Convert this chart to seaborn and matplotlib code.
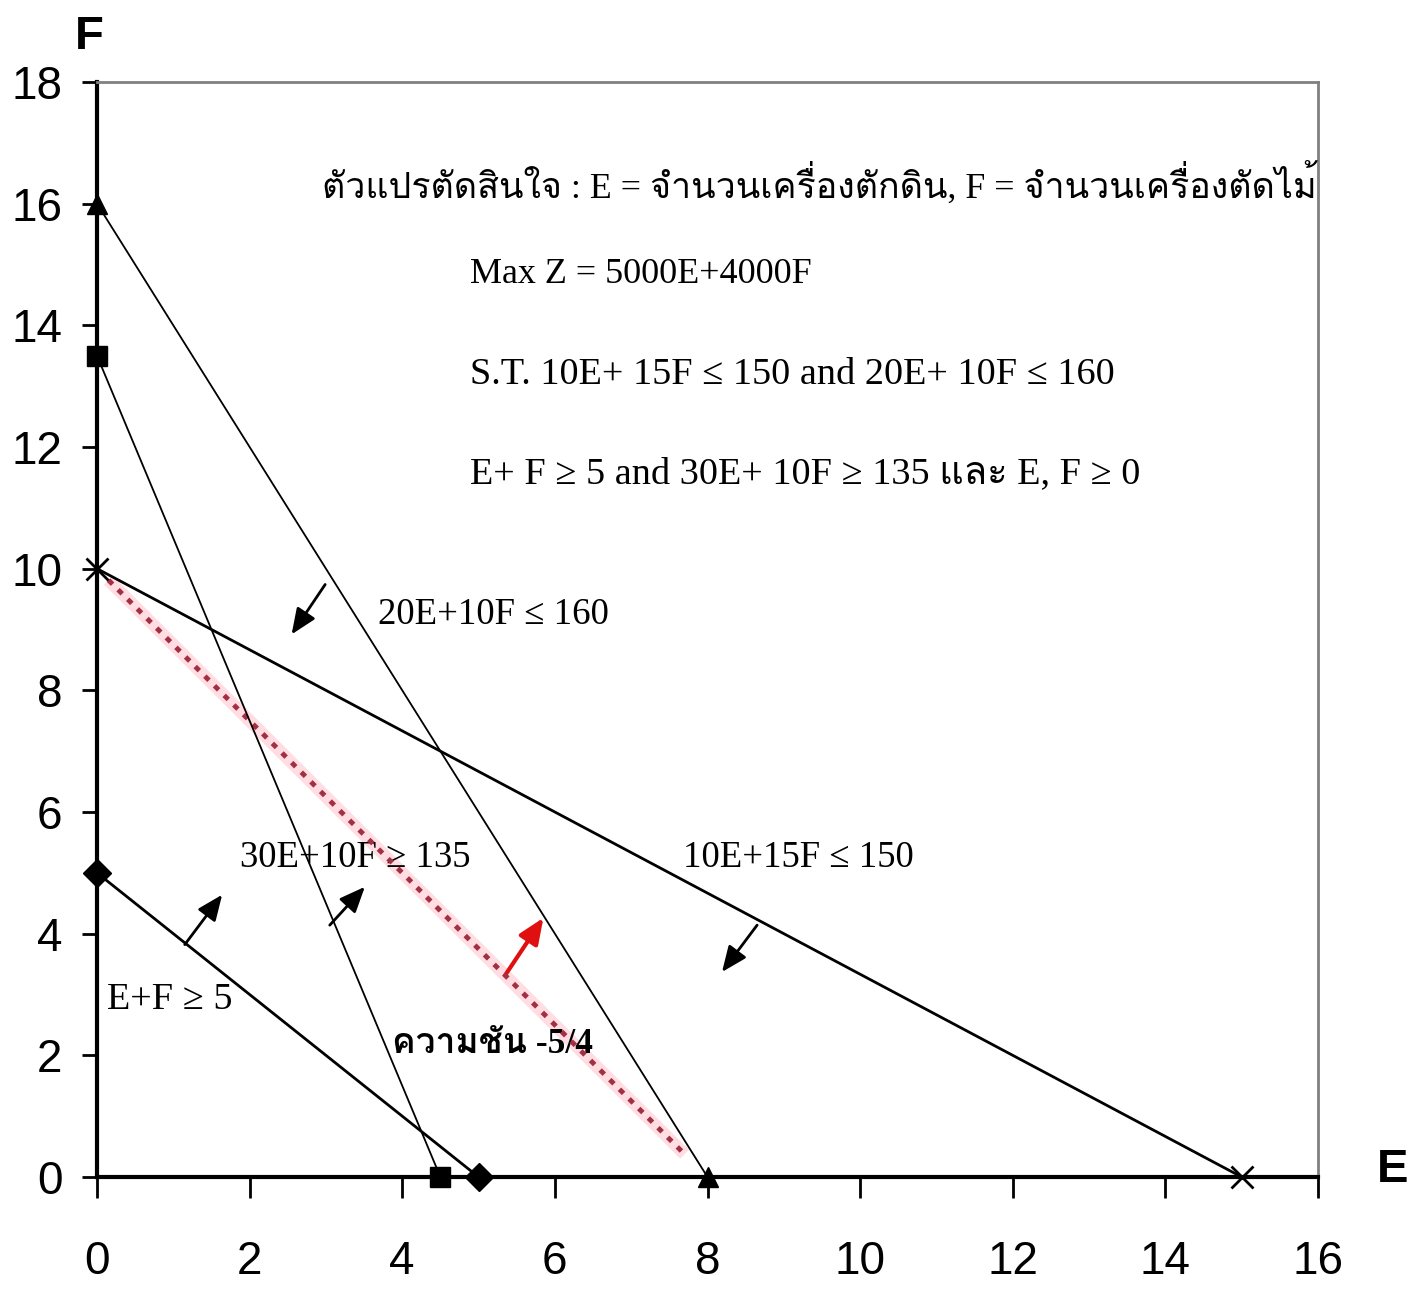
import numpy as np
import pandas as pd
import matplotlib
matplotlib.use("Agg")
import matplotlib.pyplot as plt
import seaborn as sns
from matplotlib import font_manager
from matplotlib.ft2font import FT2Font

# ---- data -----------------------------------------------------------------
constraint_names = ["E+F ≥ 5", "30E+10F ≥ 135", "20E+10F ≤ 160", "10E+15F ≤ 150"]
e_intercepts = [5, 4.5, 8, 15]
f_intercepts = [5, 13.5, 16, 10]
constraint_markers = ["D", "s", "^", "x"]
constraint_widths = [2.0, 1.3, 1.3, 2.0]

# objective Z = 5000E + 4000F, iso-profit line at Z = 40000
profit_e = 5000
profit_f = 4000
iso_z = 40000
iso_e_range = [0.15, 7.7]

# direction arrows (start E, start F, end E, end F)
arrow_starts = [(1.15, 3.82), (3.05, 4.14), (2.99, 9.74), (8.65, 4.14)]
arrow_ends = [(1.64, 4.64), (3.51, 4.77), (2.55, 8.92), (8.19, 3.37)]
red_arrow_start = (5.35, 3.32)
red_arrow_end = (5.85, 4.26)

x_ticks = [0, 2, 4, 6, 8, 10, 12, 14, 16]
y_ticks = [0, 2, 4, 6, 8, 10, 12, 14, 16, 18]

title_text = "ตัวแปรตัดสินใจ : E = จำนวนเครื่องตักดิน, F = จำนวนเครื่องตัดไม้"
objective_text = "Max Z = 5000E+4000F"
st_text = "S.T. 10E+ 15F ≤ 150 and 20E+ 10F ≤ 160"
st2_text = "E+ F ≥ 5 and 30E+ 10F ≥ 135 และ E, F ≥ 0"
slope_text = "ความชัน -5/4"

# ---- fonts ------------------------------------------------------------------
def find_family(pred_char):
    for f in font_manager.fontManager.ttflist:
        try:
            if ord(pred_char) in FT2Font(f.fname).get_charmap():
                return f.name
        except Exception:
            pass
    return None

available = {f.name for f in font_manager.fontManager.ttflist}
thai_family = find_family("ก")
serif_list = ["Liberation Serif"] + ([thai_family] if thai_family else []) + ["DejaVu Sans"]
tick_family = "Liberation Sans Narrow" if "Liberation Sans Narrow" in available else "Liberation Sans"

sns.set_theme(style="white")
plt.rcParams["font.family"] = serif_list
plt.rcParams["text.color"] = "black"
plt.rcParams["xtick.color"] = "black"
plt.rcParams["ytick.color"] = "black"

# ---- figure -----------------------------------------------------------------
fig = plt.figure(figsize=(14.23, 13.0), dpi=100)
ax = fig.add_axes([97 / 1423, 123 / 1300, (1318 - 97) / 1423, (1218 - 123) / 1300])

rows = []
for name, e0, f0 in zip(constraint_names, e_intercepts, f_intercepts):
    rows.append({"constraint": name, "E": 0.0, "F": f0})
    rows.append({"constraint": name, "E": e0, "F": 0.0})
df = pd.DataFrame(rows)

for name, mk, lw in zip(constraint_names, constraint_markers, constraint_widths):
    sub = df[df["constraint"] == name]
    sns.lineplot(data=sub, x="E", y="F", ax=ax, color="black", lw=lw,
                 sort=False, estimator=None, marker=mk,
                 markersize=14 if mk != "x" else 16,
                 markeredgewidth=2 if mk == "x" else 1,
                 markeredgecolor="black", markerfacecolor="black")
for line in ax.lines:
    line.set_clip_on(False)
    line.set_zorder(5)

# iso-profit line
iso_e = np.array(iso_e_range)
iso_f = (iso_z - profit_e * iso_e) / profit_f
ax.plot(iso_e, iso_f, color="#ff9fb0", lw=9, alpha=0.35, solid_capstyle="butt", zorder=3)
ax.plot(iso_e, iso_f, color="#a33040", lw=3.5, ls=(0, (1.2, 1.6)), zorder=4)

arrow_style = "-|>,head_length=1.3,head_width=0.55"
for (sx, sy), (ex, ey) in zip(arrow_starts, arrow_ends):
    ax.annotate("", xy=(ex, ey), xytext=(sx, sy),
                arrowprops=dict(arrowstyle=arrow_style,
                                color="black", lw=2.0, shrinkA=0, shrinkB=0))
ax.annotate("", xy=red_arrow_end, xytext=red_arrow_start,
            arrowprops=dict(arrowstyle=arrow_style,
                            color="#e01010", lw=3.0, shrinkA=0, shrinkB=0))

# ---- axes styling ------------------------------------------------------------
ax.set_xlim(0, 16)
ax.set_ylim(0, 18)
ax.set_xticks(x_ticks)
ax.set_yticks(y_ticks)
ax.set_xticklabels([str(v) for v in x_ticks], family=tick_family, fontsize=33)
ax.set_yticklabels([str(v) for v in y_ticks], family=tick_family, fontsize=33)
ax.tick_params(axis="x", direction="out", length=15, width=2, pad=30,
               bottom=True, colors="black")
ax.tick_params(axis="y", direction="out", length=11, width=2, pad=14,
               left=True, colors="black")
ax.set_xlabel("")
ax.set_ylabel("")
for side in ["left", "bottom"]:
    ax.spines[side].set_color("black")
    ax.spines[side].set_linewidth(3)
for side in ["top", "right"]:
    ax.spines[side].set_color("#808080")
    ax.spines[side].set_linewidth(2)
ax.grid(False)

# axis names
fig.text(89 / 1423, 1 - 37 / 1300, "F", family=["Liberation Sans"], fontweight="bold",
         fontsize=34, ha="center", va="center", color="black")
fig.text(1393 / 1423, 1 - 1170 / 1300, "E", family=["Liberation Sans"], fontweight="bold",
         fontsize=34, ha="center", va="center", color="black")

# ---- annotations -----------------------------------------------------------
txt = dict(ha="left", va="center", family=serif_list, color="black")
ax.text(2.95, 16.32, title_text, fontsize=25.8, **txt)
ax.text(4.89, 14.84, objective_text, fontsize=26, **txt)
ax.text(4.89, 13.19, st_text, fontsize=27.5, **txt)
ax.text(4.89, 11.55, st2_text, fontsize=27.5, **txt)
ax.text(3.68, 9.24, constraint_names[2], fontsize=26.5, **txt)
ax.text(1.87, 5.25, constraint_names[1], fontsize=26.5, **txt)
ax.text(7.68, 5.25, constraint_names[3], fontsize=26.5, **txt)
ax.text(0.13, 2.91, constraint_names[0], fontsize=27.5, **txt)
ax.text(3.87, 2.17, slope_text, fontsize=25.5, fontweight="bold", **txt)

fig.savefig("out.png", dpi=100)
